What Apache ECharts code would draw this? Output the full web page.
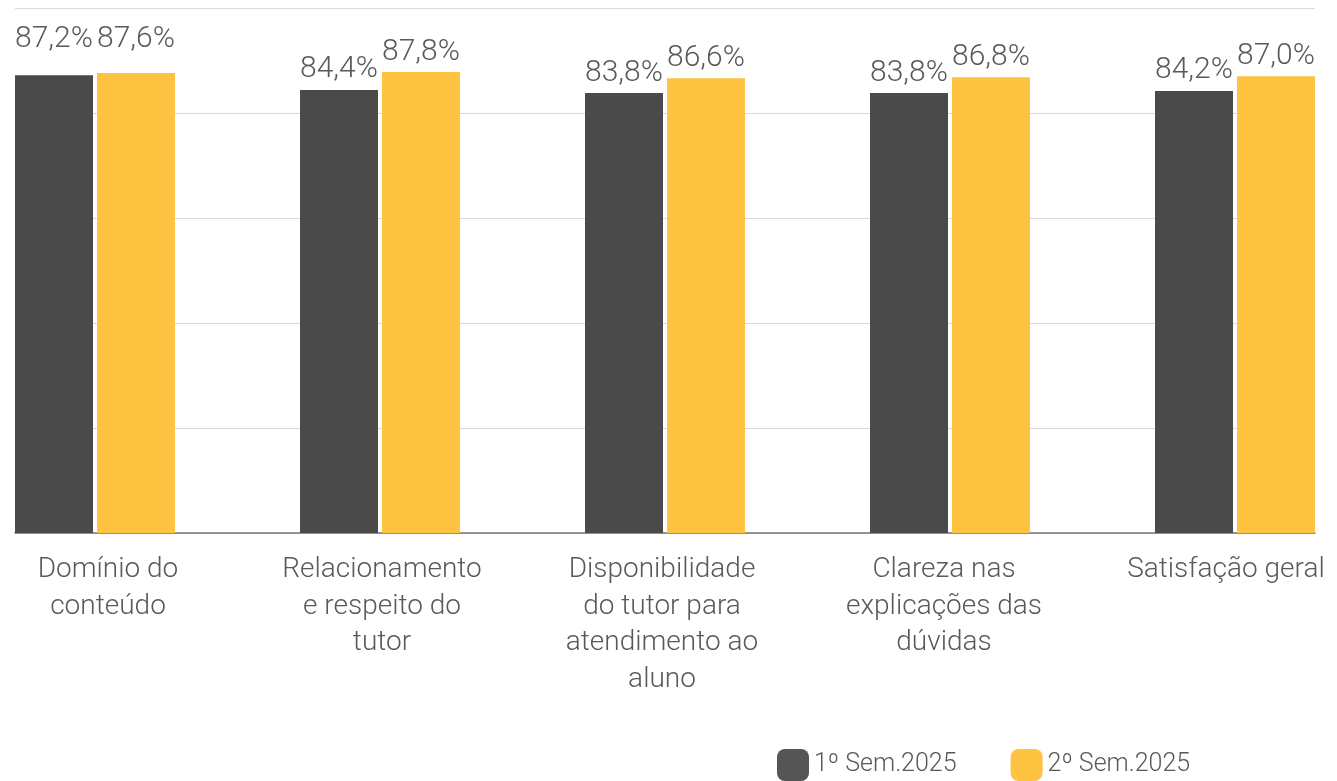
<!DOCTYPE html>
<html>
<head>
<meta charset="utf-8">
<script src="https://cdn.jsdelivr.net/npm/echarts@6/dist/echarts.min.js"></script>
<style>
	html, body { margin: 0; padding: 0; background: #fff; }
	#chart { width: 1337px; height: 781px; }
</style>
</head>
<body>
<div id="chart"></div>
<script>
	const categories = [
		"Domínio do\nconteúdo",
		"Relacionamento\ne respeito do\ntutor",
		"Disponibilidade\ndo tutor para\natendimento ao\naluno",
		"Clareza nas\nexplicações das\ndúvidas",
		"Satisfação geral"
	];
	const seriesNames = ["1º Sem.2025", "2º Sem.2025"];
	const sem1 = [87.2, 84.4, 83.8, 83.8, 84.2];
	const sem2 = [87.6, 87.8, 86.6, 86.8, 87.0];

	const textColor = "#595959";
	const font = "Roboto";

	// formato brasileiro: 87,2%
	const formatPct = value => Number(value).toFixed(1).replace(".", ",") + "%";

	// primeiro grupo tem rótulos mais altos no original
	const toData = (values, firstDistance) =>
		values.map((v, i) => (i === 0 ? { value: v, label: { distance: firstDistance } } : v));

	// no original os rótulos do eixo não ficam bem centrados nas barras
	const shiftLabel = (name, dx) => ({
		value: name,
		textStyle: { padding: dx >= 0 ? [0, 0, 0, dx * 2] : [0, -dx * 2, 0, 0] }
	});

	const labelStyle = {
		show: true,
		position: "top",
		distance: 5,
		color: textColor,
		fontFamily: font,
		fontWeight: 300,
		fontSize: 30,
		formatter: p => formatPct(p.value)
	};

	const chart = echarts.init(document.getElementById("chart"));

	const option = {
		animation: false,
		legend: {
			selectedMode: false,
			left: 777,
			top: 749,
			padding: 0,
			itemWidth: 32,
			itemHeight: 32,
			itemGap: 54,
			icon: "roundRect",
			textStyle: {
				color: textColor,
				fontFamily: font,
				fontWeight: 300,
				fontSize: 25
			},
			data: [
				{ name: seriesNames[0], itemStyle: { color: "#555555" } },
				{ name: seriesNames[1] }
			]
		},
		grid: [
			{ left: 15, right: 22, top: 8, bottom: 248, outerBoundsMode: "none" },
			{ left: 95, right: 102, top: 8, bottom: 248, outerBoundsMode: "none" }
		],
		xAxis: [
			{
				type: "category",
				gridIndex: 0,
				data: categories,
				axisLine: { show: true, lineStyle: { color: "#767676", width: 1.5 } },
				axisTick: { show: false },
				axisLabel: { show: false }
			},
			{
				type: "category",
				gridIndex: 1,
				data: categories.map((c, i) => shiftLabel(c, [13, 2, -3, -6, -9][i])),
				boundaryGap: false,
				axisLine: { show: false },
				axisTick: { show: false },
				axisLabel: {
					interval: 0,
					margin: 19,
					color: textColor,
					fontFamily: font,
					fontWeight: 300,
					fontSize: 28,
					lineHeight: 36.5
				}
			}
		],
		yAxis: [
			{
				type: "value",
				gridIndex: 0,
				min: 0,
				max: 100,
				interval: 20,
				axisLine: { show: false },
				axisTick: { show: false },
				axisLabel: { show: false },
				splitLine: { lineStyle: { color: "#d9d9d9", width: 1 } }
			},
			{
				type: "value",
				gridIndex: 1,
				min: 0,
				max: 100,
				interval: 20,
				axisLine: { show: false },
				axisTick: { show: false },
				axisLabel: { show: false },
				splitLine: { show: false }
			}
		],
		series: [
			{
				name: seriesNames[0],
				type: "bar",
				xAxisIndex: 1,
				yAxisIndex: 1,
				clip: false,
				barWidth: 78,
				barGap: "5.1%",
				itemStyle: { color: "#4a4a4a" },
				label: labelStyle,
				data: toData(sem1, 21)
			},
			{
				name: seriesNames[1],
				type: "bar",
				xAxisIndex: 1,
				yAxisIndex: 1,
				clip: false,
				barWidth: 78,
				barGap: "5.1%",
				itemStyle: { color: "#ffc342" },
				label: labelStyle,
				data: toData(sem2, 19)
			}
		]
	};

	chart.setOption(option);
</script>
</body>
</html>
